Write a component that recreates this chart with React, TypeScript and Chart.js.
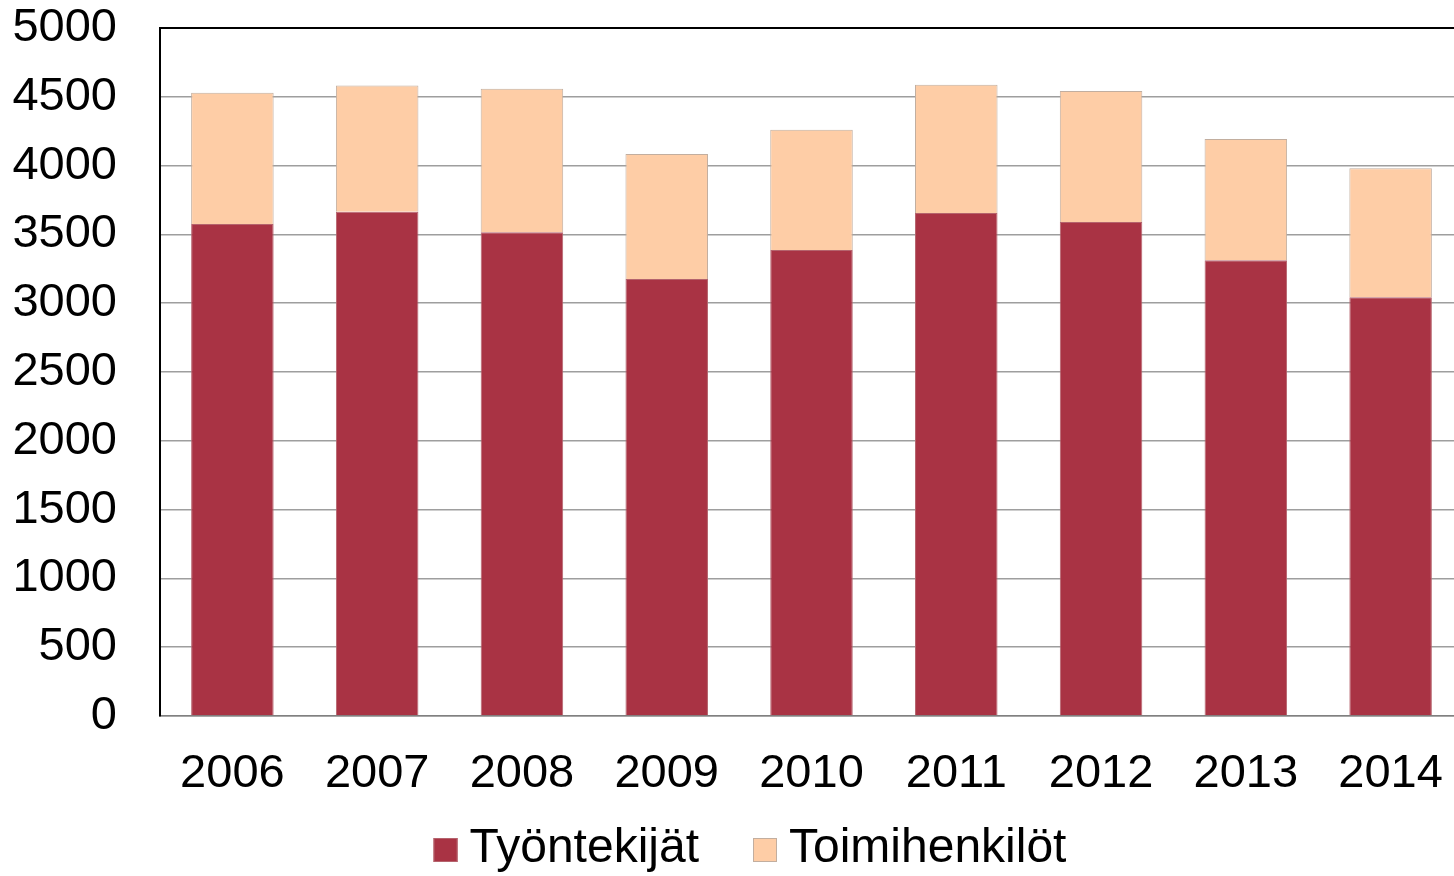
import React, { useEffect, useRef } from "react";
import { Chart, registerables } from "chart.js";

Chart.register(...registerables);

const years = ["2006", "2007", "2008", "2009", "2010", "2011", "2012", "2013", "2014"];
const tyontekijat = [3575, 3665, 3515, 3175, 3387, 3656, 3590, 3312, 3043];
const toimihenkilot = [954, 917, 1043, 910, 873, 931, 952, 881, 938];
const seriesLabels = ["Työntekijät", "Toimihenkilöt"];
const seriesColors = ["#A93344", "#FECDA6"];
const seriesBorders = ["#B5636D", "#C2AE9F"];
const yMax = 5000;
const yStep = 500;

const FONT = "'Liberation Sans', Arial, sans-serif";
const CANVAS_W = 1463;
const CANVAS_H = 876;

const customLegend = {
  id: "customLegend",
  afterDraw(chart: any) {
    const ctx = chart.ctx;
    const datasets = chart.data.datasets;
    ctx.save();
    ctx.font = `48px ${FONT}`;
    ctx.textBaseline = "middle";
    ctx.textAlign = "left";
    const box = 24;
    const gapBoxText = 12;
    const gapItems = 54;
    const widths = datasets.map((d: any) => box + gapBoxText + ctx.measureText(d.label).width);
    const total = widths.reduce((a: number, b: number) => a + b, 0) + gapItems * (datasets.length - 1);
    const centerX = 750;
    const cy = 850;
    let x = centerX - total / 2;
    datasets.forEach((d: any, i: number) => {
      ctx.fillStyle = d.backgroundColor;
      ctx.fillRect(x, cy - box / 2, box, box);
      ctx.strokeStyle = d.borderColor;
      ctx.lineWidth = 1;
      ctx.strokeRect(x + 0.5, cy - box / 2 + 0.5, box - 1, box - 1);
      ctx.fillStyle = "#000";
      ctx.fillText(d.label, x + box + gapBoxText, cy - 1);
      x += widths[i] + gapItems;
    });
    ctx.restore();
  },
};

export default function App() {
  const canvasRef = useRef<HTMLCanvasElement | null>(null);

  useEffect(() => {
    document.body.style.margin = "0";
    document.body.style.overflow = "hidden";
    const canvas = canvasRef.current;
    if (!canvas) return;
    const chart = new Chart(canvas, {
      type: "bar",
      data: {
        labels: years,
        datasets: [
          {
            label: seriesLabels[0],
            data: tyontekijat,
            backgroundColor: seriesColors[0],
            borderColor: seriesBorders[0],
            borderWidth: 1,
            barPercentage: 0.57,
            categoryPercentage: 1,
          },
          {
            label: seriesLabels[1],
            data: toimihenkilot,
            backgroundColor: seriesColors[1],
            borderColor: seriesBorders[1],
            borderWidth: 1,
            barPercentage: 0.57,
            categoryPercentage: 1,
          },
        ],
      },
      options: {
        animation: false,
        responsive: false,
        maintainAspectRatio: false,
        devicePixelRatio: 1,
        layout: { padding: 0 },
        plugins: {
          legend: { display: false },
          tooltip: { enabled: false },
          title: { display: false },
        },
        scales: {
          x: {
            stacked: true,
            grid: { display: false, drawTicks: false },
            border: { display: true, color: "#808080", width: 1.5 },
            ticks: {
              color: "#000",
              font: { family: FONT, size: 47 },
              padding: 30,
              maxRotation: 0,
              autoSkip: false,
            },
            afterFit(scale: any) {
              scale.height = 160;
              scale.paddingLeft = 0;
              scale.paddingRight = 0;
            },
          },
          y: {
            stacked: true,
            min: 0,
            max: yMax,
            grid: {
              drawTicks: false,
              color: (c: any) => (c.tick && c.tick.value === yMax ? "#000" : "#9e9e9e"),
              lineWidth: (c: any) => (c.tick && c.tick.value === yMax ? 2 : 1.5),
            },
            border: { display: true, color: "#000", width: 2 },
            ticks: {
              stepSize: yStep,
              color: "#000",
              font: { family: FONT, size: 47 },
              padding: 43,
              callback: (v: any) => String(v),
            },
            afterFit(scale: any) {
              scale.width = 160;
              scale.paddingTop = 28;
              scale.paddingBottom = 28;
            },
          },
        },
      },
      plugins: [customLegend],
    });
    return () => chart.destroy();
  }, []);

  return (
    <div style={{ position: "fixed", left: 0, top: 0, width: 1454, height: 876, overflow: "hidden", background: "#fff" }}>
      <canvas ref={canvasRef} width={CANVAS_W} height={CANVAS_H} style={{ display: "block", width: CANVAS_W, height: CANVAS_H }} />
    </div>
  );
}
